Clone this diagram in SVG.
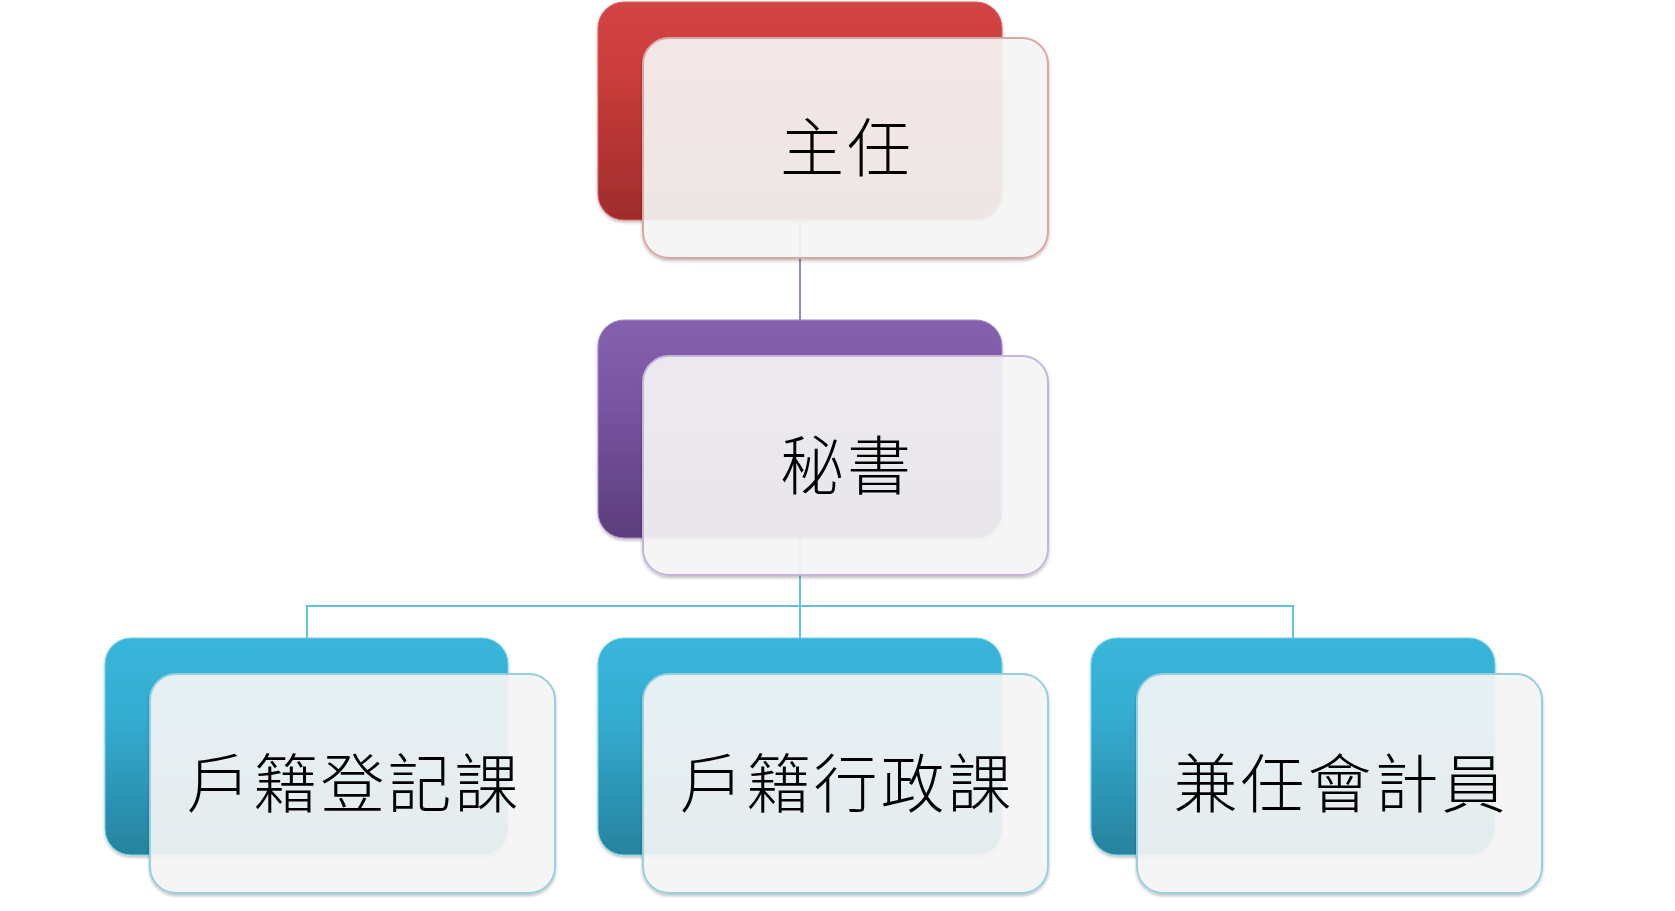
<svg xmlns="http://www.w3.org/2000/svg" width="1675" height="911" viewBox="0 0 1675 911">
<defs>
<linearGradient id="gRed" x1="0" y1="0" x2="0" y2="1"><stop offset="0" stop-color="#d44444"/><stop offset="0.35" stop-color="#c93c3a"/><stop offset="1" stop-color="#9f2c2c"/></linearGradient>
<linearGradient id="gPur" x1="0" y1="0" x2="0" y2="1"><stop offset="0" stop-color="#8461ad"/><stop offset="0.35" stop-color="#7a56a4"/><stop offset="1" stop-color="#5c3d7c"/></linearGradient>
<linearGradient id="gTeal" x1="0" y1="0" x2="0" y2="1"><stop offset="0" stop-color="#3ab6da"/><stop offset="0.35" stop-color="#34add2"/><stop offset="1" stop-color="#27839f"/></linearGradient>
<filter id="sh" x="-5%" y="-5%" width="110%" height="115%"><feDropShadow dx="0" dy="2" stdDeviation="1.5" flood-color="#000" flood-opacity="0.25"/></filter>
</defs>
<style>
.back{filter:url(#sh)}
.front{fill:#f7f7f7;fill-opacity:0.9;stroke-width:2;filter:url(#sh)}
.lbl{font-family:"Noto Sans CJK TC","Noto Sans CJK SC",sans-serif;font-size:64px;font-weight:300;fill:#000;text-anchor:middle;dominant-baseline:central;letter-spacing:3px}
.cn{fill:none;stroke-width:2}
</style>
<g id="connectors">
<line class="cn" x1="800" y1="150" x2="800" y2="321" stroke="#9a86c4"/>
<path class="cn" d="M800 460 V606 M307 638 V606 H1293 V638 M800 606 V638" stroke="#62c2dc"/>
</g>
<g id="node-zhuren">
<rect class="back" x="598" y="2" width="404" height="218" rx="26" fill="url(#gRed)" stroke="#e06060" stroke-width="1"/>
<rect class="front" x="643" y="38" width="405" height="220" rx="26" stroke="#dba6a6"/>
<text class="lbl" x="847" y="143">主任</text>
</g>
<g id="node-mishu">
<rect class="back" x="598" y="320" width="404" height="218" rx="26" fill="url(#gPur)" stroke="#a68ad0" stroke-width="1"/>
<rect class="front" x="643" y="356" width="405" height="219" rx="26" stroke="#c4b6d6"/>
<text class="lbl" x="847" y="461">秘書</text>
</g>
<g id="node-dengji">
<rect class="back" x="105" y="638" width="403" height="217" rx="26" fill="url(#gTeal)" stroke="#6fd4ec" stroke-width="1"/>
<rect class="front" x="150" y="674" width="405" height="219" rx="26" stroke="#97cfdf"/>
<text class="lbl" x="354" y="779">戶籍登記課</text>
</g>
<g id="node-xingzheng">
<rect class="back" x="598" y="638" width="404" height="217" rx="26" fill="url(#gTeal)" stroke="#6fd4ec" stroke-width="1"/>
<rect class="front" x="643" y="674" width="405" height="219" rx="26" stroke="#97cfdf"/>
<text class="lbl" x="847" y="779">戶籍行政課</text>
</g>
<g id="node-kuaiji">
<rect class="back" x="1091" y="638" width="404" height="217" rx="26" fill="url(#gTeal)" stroke="#6fd4ec" stroke-width="1"/>
<rect class="front" x="1137" y="674" width="405" height="219" rx="26" stroke="#97cfdf"/>
<text class="lbl" x="1341" y="779">兼任會計員</text>
</g>
</svg>
